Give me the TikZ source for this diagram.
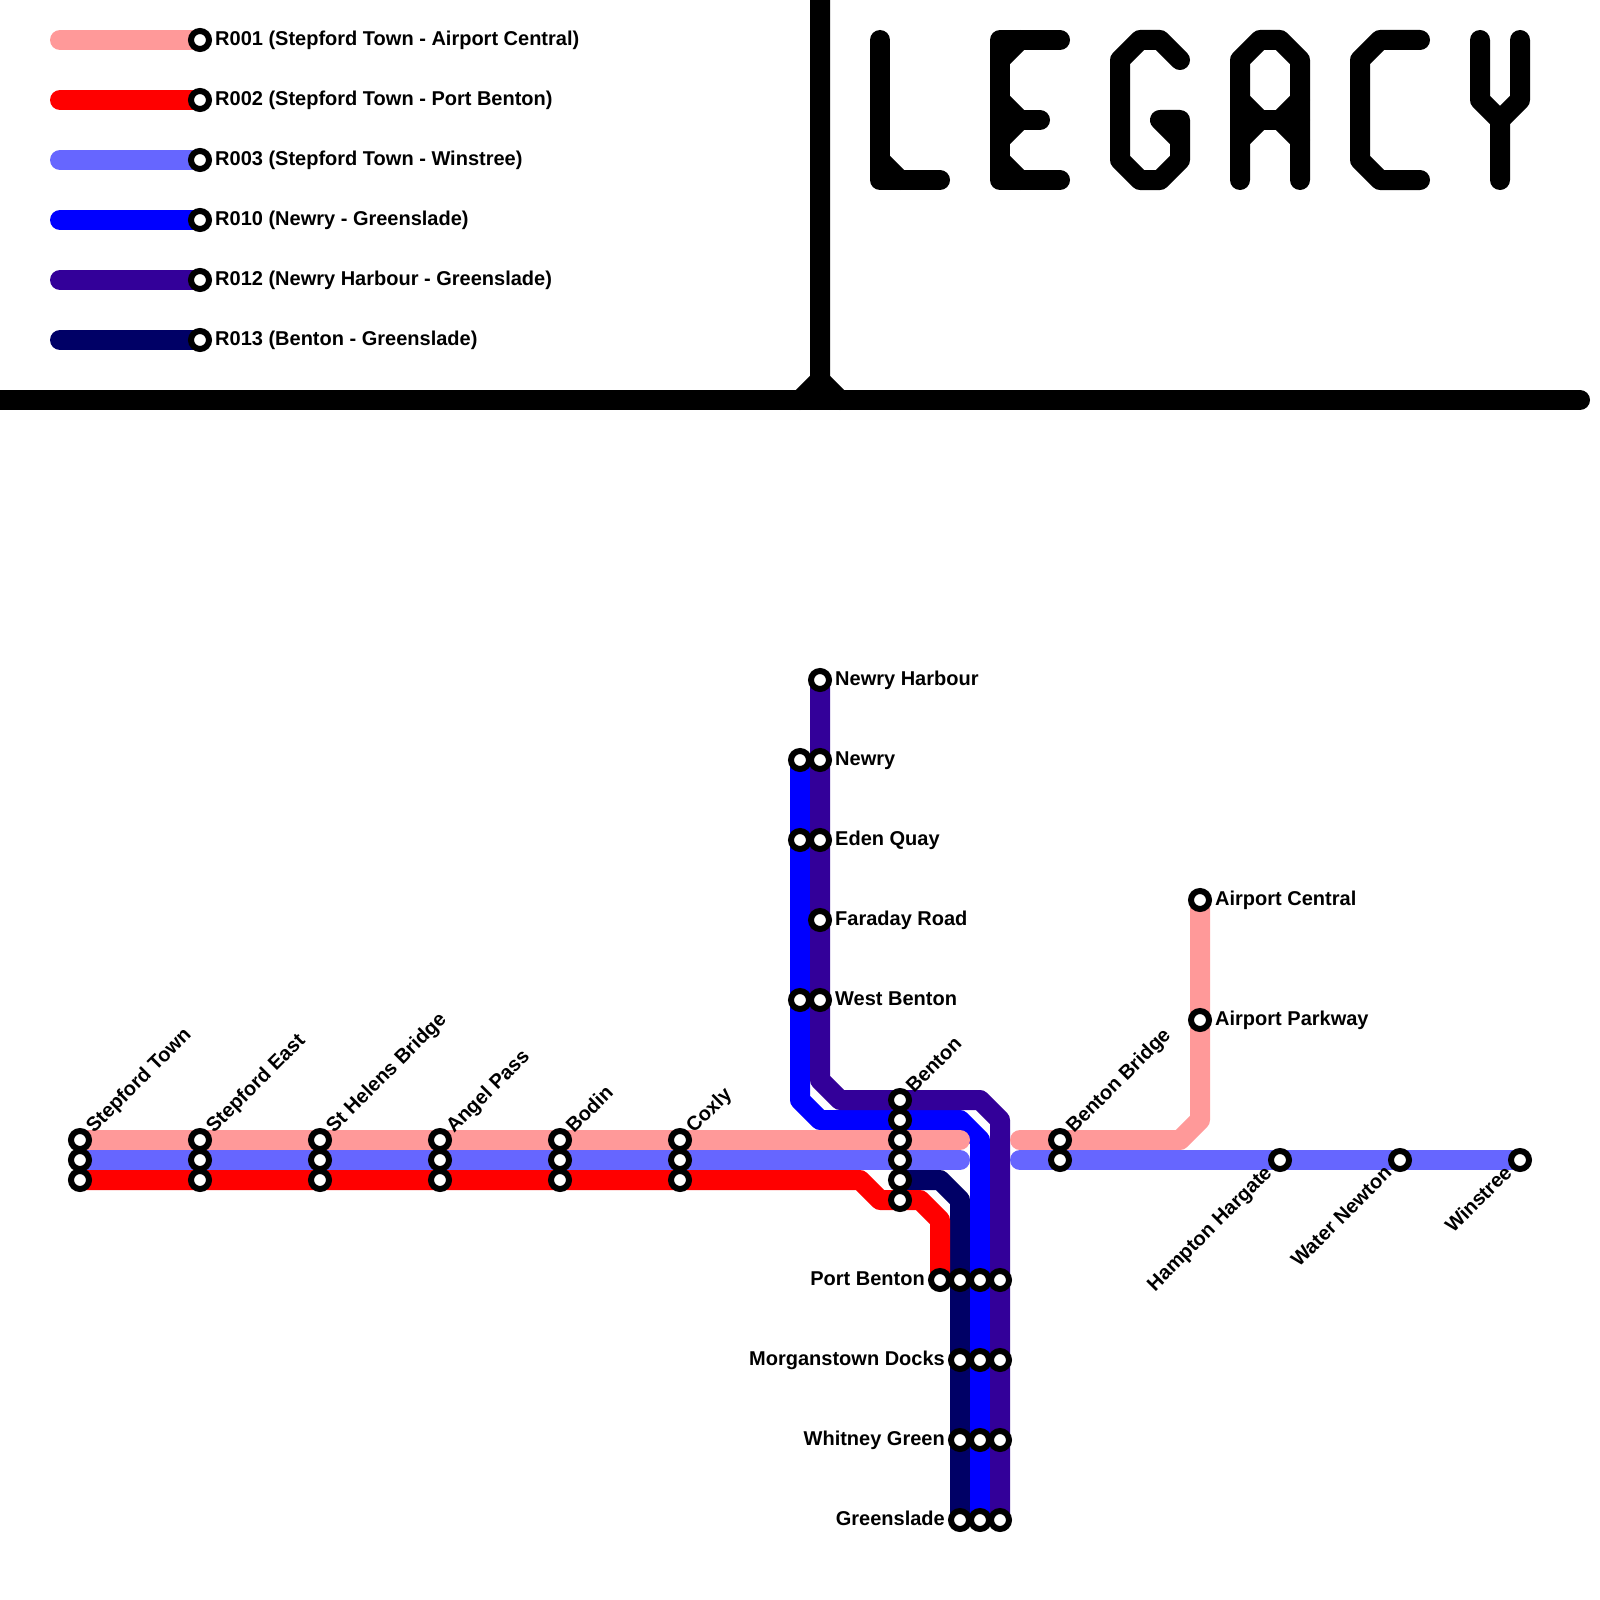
\documentclass[tikz,border=0pt]{standalone}
\usepackage{fontspec}
\setmainfont{Liberation Sans}
\usetikzlibrary{backgrounds}
\definecolor{rpink}{HTML}{FF9999}
\definecolor{rred}{HTML}{FF0000}
\definecolor{rperi}{HTML}{6666FF}
\definecolor{rblue}{HTML}{0000FF}
\definecolor{rpurple}{HTML}{330099}
\definecolor{rnavy}{HTML}{000066}
\tikzset{
  route/.style={line width=20pt,line cap=round,line join=round},
  stn/.style={circle,draw=black,fill=white,line width=6pt,minimum size=18pt,inner sep=0pt},
  lbl/.style={font=\fontsize{20}{24}\selectfont\bfseries,inner sep=0pt},
  lblright/.style={lbl,anchor=base west},
  lblleft/.style={lbl,anchor=base east},
  lblup/.style={lbl,anchor=base west,rotate=45},
  lbldown/.style={lbl,anchor=base east,rotate=45}
}
\begin{document}
\begin{tikzpicture}[x=1pt,y=-1pt]
  \useasboundingbox (0,0) rectangle (1600,1600);
  \draw[route,black] (0,400) -- (1580,400);
  \draw[route,black] (800,400) -- (820,380) -- (820,0);
  \draw[route,black] (820,380) -- (840,400);
  \draw[route,black] (880,40) -- (880,180) -- (940,180);
  \draw[route,black] (880,160) -- (900,180);
  \draw[route,black] (1060,40) -- (1000,40) -- (1000,180) -- (1060,180);
  \draw[route,black] (1000,120) -- (1040,120);
  \draw[route,black] (1000,60) -- (1020,40);
  \draw[route,black] (1000,100) -- (1020,120) -- (1000,140);
  \draw[route,black] (1000,160) -- (1020,180);
  \draw[route,black] (1180,60) -- (1160,40) -- (1140,40) -- (1120,60) -- (1120,160) -- (1140,180) -- (1160,180) -- (1180,160) -- (1180,120) -- (1160,120) -- (1180,140);
  \draw[route,black] (1240,180) -- (1240,60) -- (1260,40) -- (1280,40) -- (1300,60) -- (1300,180);
  \draw[route,black] (1240,120) -- (1300,120);
  \draw[route,black] (1240,100) -- (1260,120) -- (1240,140);
  \draw[route,black] (1300,100) -- (1280,120) -- (1300,140);
  \draw[route,black] (1420,40) -- (1380,40) -- (1360,60) -- (1360,160) -- (1380,180) -- (1420,180);
  \draw[route,black] (1480,40) -- (1480,100) -- (1500,120) -- (1500,180);
  \draw[route,black] (1520,40) -- (1520,100) -- (1500,120);
  \foreach \i/\y/\c/\t in {1/40/rpink/R001 (Stepford Town - Airport Central),
      2/100/rred/R002 (Stepford Town - Port Benton),
      3/160/rperi/R003 (Stepford Town - Winstree),
      4/220/rblue/R010 (Newry - Greenslade),
      5/280/rpurple/R012 (Newry Harbour - Greenslade),
      6/340/rnavy/R013 (Benton - Greenslade)} {
    \coordinate (keystart\i) at (60,\y);
    \node[stn] (key\i) at (200,\y) {};
    \node[lblright] (keytxt\i) at (215,\y+5.4) {\t};
    \begin{scope}[on background layer]
      \draw[route,\c] (keystart\i) -- (key\i.center);
    \end{scope}
  }
  \foreach \i/\x/\t in {1/80/Stepford Town,2/200/Stepford East,3/320/St Helens Bridge,4/440/Angel Pass,5/560/Bodin,6/680/Coxly} {
    \node[stn] (pk\i) at (\x,1140) {};
    \node[stn] (pw\i) at (\x,1160) {};
    \node[stn] (rd\i) at (\x,1180) {};
    \node[lblup] (wtxt\i) at (\x+14,1134) {\t};
  }
  \foreach \i/\y in {1/1100,2/1120,3/1140,4/1160,5/1180,6/1200} {
    \node[stn] (bn\i) at (900,\y) {};
  }
  \node[lblup] (bntxt) at (914,1094) {Benton};
  \node[stn] (bbpk) at (1060,1140) {};
  \node[stn] (bbpw) at (1060,1160) {};
  \node[lblup] (bbtxt) at (1074,1134) {Benton Bridge};
  \node[stn] (acen) at (1200,900) {};
  \node[stn] (apkw) at (1200,1020) {};
  \node[lblright] (acentxt) at (1215,905) {Airport Central};
  \node[lblright] (apkwtxt) at (1215,1025) {Airport Parkway};
  \foreach \i/\x/\t in {1/1280/Hampton Hargate,2/1400/Water Newton,3/1520/Winstree} {
    \node[stn] (ee\i) at (\x,1160) {};
    \node[lbldown] (eetxt\i) at (\x-7,1174) {\t};
  }
  \node[stn] (nh) at (820,680) {};
  \node[lblright] (nhtxt) at (835,685) {Newry Harbour};
  \foreach \n/\y/\t in {ny/760/Newry,eq/840/Eden Quay,wb/1000/West Benton} {
    \node[stn] (\n a) at (800,\y) {};
    \node[stn] (\n b) at (820,\y) {};
    \node[lblright] (\n txt) at (835,\y+5) {\t};
  }
  \node[stn] (fr) at (820,920) {};
  \node[lblright] (frtxt) at (835,925) {Faraday Road};
  \node[stn] (pb) at (940,1280) {};
  \node[lblleft] (pbtxt) at (925,1285) {Port Benton};
  \foreach \n/\y in {pb/1280,md/1360,wg/1440,gs/1520} {
    \node[stn] (\n a) at (960,\y) {};
    \node[stn] (\n b) at (980,\y) {};
    \node[stn] (\n c) at (1000,\y) {};
  }
  \foreach \n/\y/\t in {md/1360/Morganstown Docks,wg/1440/Whitney Green,gs/1520/Greenslade} {
    \node[lblleft] (\n txt) at (945,\y+5) {\t};
  }
  \coordinate (pkend) at (960,1140);
  \coordinate (pwend) at (960,1160);
  \coordinate (pkrest) at (1020,1140);
  \coordinate (pwrest) at (1020,1160);
  \begin{scope}[on background layer]
    \draw[route,rnavy] (bn5.center) -- (940,1180) -- (960,1200) -- (gsa.center);
    \draw[route,rblue] (nya.center) -- (800,1100) -- (820,1120) -- (960,1120) -- (980,1140) -- (gsb.center);
    \draw[route,rpurple] (nh.center) -- (820,1080) -- (840,1100) -- (980,1100) -- (1000,1120) -- (gsc.center);
    \draw[route,rred] (rd1.center) -- (860,1180) -- (880,1200) -- (920,1200) -- (940,1220) -- (pb.center);
    \draw[route,rpink] (pk1.center) -- (pkend);
    \draw[route,rpink] (pkrest) -- (1180,1140) -- (1200,1120) -- (acen.center);
    \draw[route,rperi] (pw1.center) -- (pwend);
    \draw[route,rperi] (pwrest) -- (ee3.center);
  \end{scope}
\end{tikzpicture}
\end{document}
